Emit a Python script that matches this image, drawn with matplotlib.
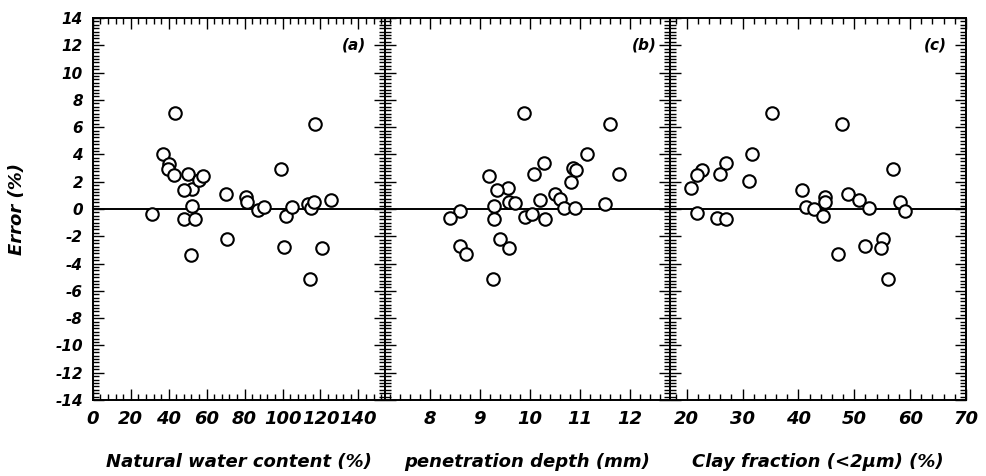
import matplotlib.pyplot as plt
from matplotlib.ticker import MultipleLocator

# ======================================
# Data (error of prediction vs. soil property)
# ======================================

# (a) natural water content (%)
water_content = [31.4, 43.4, 37.0, 39.9, 39.5, 42.8, 50.1, 52.3, 48.0, 56.0,
                 58.2, 52.3, 48.3, 53.9, 70.1, 80.7, 81.2, 87.2, 90.0, 99.3,
                 101.8, 105.1, 113.2, 115.0, 116.4, 117.3, 125.7, 70.8, 101.0,
                 120.8, 51.7, 114.6]
error_a = [-0.39, 7.05, 4.0, 3.3, 2.9, 2.5, 2.56, 1.5, 1.37, 2.1,
           2.4, 0.22, -0.73, -0.71, 1.1, 0.86, 0.54, -0.07, 0.12, 2.93,
           -0.53, 0.15, 0.37, 0.05, 0.49, 6.2, 0.66, -2.17, -2.76,
           -2.88, -3.37, -5.12]

# (b) penetration depth (mm)
pen_depth = [9.87, 11.6, 11.13, 10.29, 9.18, 10.08, 10.87, 10.91, 11.79, 10.82,
             9.55, 9.33, 10.5, 10.6, 9.59, 9.69, 10.19, 11.51, 9.29, 10.69,
             10.9, 8.61, 8.39, 9.29, 9.89, 10.03, 10.3, 8.6, 8.71, 9.39,
             9.57, 9.25]
error_b = [7.05, 6.22, 4.03, 3.34, 2.44, 2.54, 2.98, 2.86, 2.56, 2.0,
           1.51, 1.39, 1.1, 0.73, 0.54, 0.41, 0.66, 0.39, 0.22, 0.1,
           0.05, -0.12, -0.68, -0.75, -0.56, -0.39, -0.73, -2.71, -3.32, -2.2,
           -2.83, -5.12]

# (c) clay fraction (<2 um) (%)
clay = [35.2, 47.8, 31.7, 27.0, 22.8, 21.9, 25.9, 56.9, 31.1, 20.8,
        40.7, 48.8, 50.9, 44.7, 44.7, 41.4, 42.7, 52.7, 58.2, 59.1,
        21.8, 25.4, 27.0, 44.4, 47.0, 51.9, 55.2, 54.8, 56.1]
error_c = [7.05, 6.22, 4.03, 3.34, 2.86, 2.49, 2.56, 2.93, 2.05, 1.56,
           1.39, 1.1, 0.66, 0.86, 0.49, 0.17, 0.0, 0.1, 0.49, -0.15,
           -0.32, -0.68, -0.73, -0.51, -3.32, -2.71, -2.22, -2.88, -5.12]

panel_tags = ["(a)", "(b)", "(c)"]
x_titles = ["Natural water content (%)", "penetration depth (mm)",
            "Clay fraction (<2\u03bcm) (%)"]

# ======================================
# Figure setup
# ======================================
plt.rcParams['font.family'] = 'DejaVu Sans'
plt.rcParams['font.weight'] = 'bold'
plt.rcParams['font.style'] = 'italic'
plt.rcParams['axes.unicode_minus'] = False

fig = plt.figure(figsize=(9.86, 4.76), dpi=100)

W, H = 986.0, 476.0
top, bottom = 1 - 18 / H, 1 - 400 / H
edges = [92.8, 385, 670, 966]

panels = [
    (water_content, error_a, (0, 154), 20, 4, 0.935),
    (pen_depth, error_b, (7.1, 12.8), 1, 0.2, 0.954),
    (clay, error_c, (17, 70), 10, 2, 0.936),
]

for i, (xs, ys, xlim, major, minor, tag_x) in enumerate(panels):
    x0, x1 = edges[i] / W, edges[i + 1] / W
    ax = fig.add_axes([x0, bottom, x1 - x0, top - bottom])

    ax.axhline(0, color='black', lw=1.4, zorder=1)
    ax.plot(xs, ys, 'o', ms=9.0, mfc='white', mec='black', mew=1.5, zorder=3)

    ax.set_xlim(*xlim)
    ax.set_ylim(-14, 14)
    ax.xaxis.set_major_locator(MultipleLocator(major))
    ax.xaxis.set_minor_locator(MultipleLocator(minor))
    ax.yaxis.set_major_locator(MultipleLocator(2))
    ax.yaxis.set_minor_locator(MultipleLocator(0.25))

    for s in ax.spines.values():
        s.set_linewidth(1.4)

    ax.tick_params(which='both', direction='in', top=True, right=True,
                   width=1.0, labelleft=(i == 0))
    ax.tick_params(axis='x', which='major', length=8, pad=7, labelsize=13)
    ax.tick_params(axis='x', which='minor', length=4)
    ax.tick_params(axis='y', which='major', length=8, pad=7, labelsize=11)
    ax.tick_params(axis='y', which='minor', length=4.5)

    ax.text(tag_x, 12, panel_tags[i], transform=ax.get_yaxis_transform(),
            ha='right', va='center', fontsize=11)

    fig.text((edges[i] + edges[i + 1]) / 2 / W, 1 - 462 / H, x_titles[i],
             ha='center', va='center', fontsize=13)

fig.text(17 / W, 1 - 209 / H, "Error (%)", rotation=90,
         ha='center', va='center', fontsize=13)

plt.savefig("out.png", dpi=100)
